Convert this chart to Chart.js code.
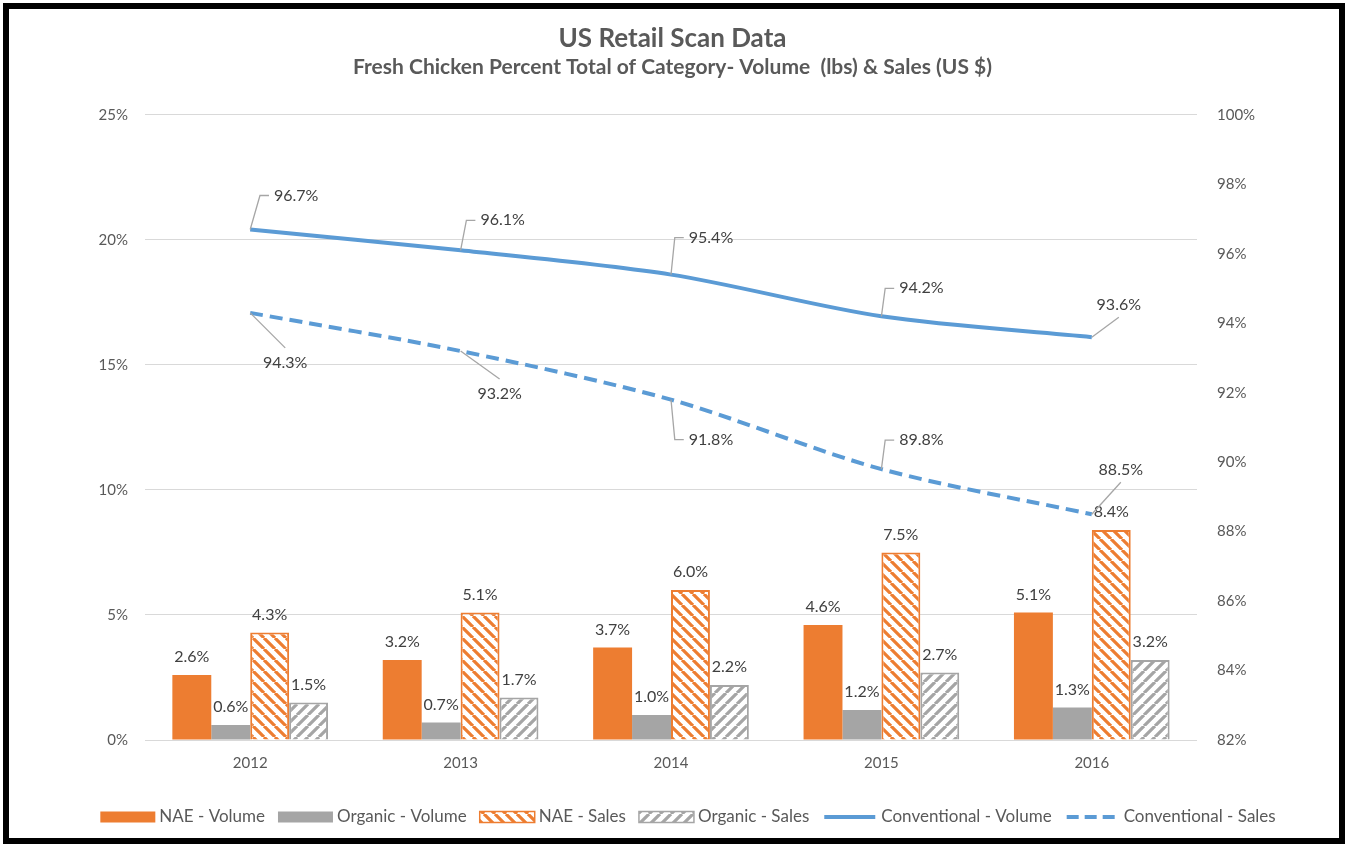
<!DOCTYPE html>
<html>
<head>
<meta charset="utf-8">
<script src="https://cdn.jsdelivr.net/npm/chart.js@4.4.1/dist/chart.umd.min.js"></script>
<style>
  html, body { margin: 0; padding: 0; background: #fff; }
  #wrap { width: 1345px; height: 844px; position: relative; }
</style>
</head>
<body>
<div id="wrap"><canvas id="myChart" width="1345" height="844"></canvas></div>
<script>
'use strict';
let years = ['2012', '2013', '2014', '2015', '2016'];
let naeVolume = [2.6, 3.2, 3.7, 4.6, 5.1];
let organicVolume = [0.6, 0.7, 1.0, 1.2, 1.3];
let naeSales = [4.3, 5.1, 6.0, 7.5, 8.4];
let organicSales = [1.5, 1.7, 2.2, 2.7, 3.2];
let convVolume = [96.7, 96.1, 95.4, 94.2, 93.6];
let convSales = [94.3, 93.2, 91.8, 89.8, 88.5];

let orange = '#ED7D31';
let gray = '#A5A5A5';
let blue = '#5B9BD5';
let textGray = '#595959';
let labelGray = '#404040';
let fontName = 'Lato, Carlito, Calibri, sans-serif';

// where each line label sits, relative to its point: dx, dy, leader type
let volLabelPos = [[46, -34, 'elbow'], [42, -30, 'elbow'], [40, -37, 'elbow'], [40, -28, 'elbow'], [27, -32, 'line']];
let salesLabelPos = [[35, 50, 'line'], [39, 43, 'line'], [40, 40, 'elbow'], [40, -29, 'elbow'], [29, -44, 'line']];

function makeHatch(color, back) {
    let s = 11;
    let c = document.createElement('canvas');
    c.width = s; c.height = s;
    let g = c.getContext('2d');
    g.fillStyle = '#fff';
    g.fillRect(0, 0, s, s);
    g.strokeStyle = color;
    g.lineWidth = 3.2;
    g.beginPath();
    for (let k = -1; k <= 1; k++) {
        if (back) {
            g.moveTo(k * s, 0); g.lineTo(k * s + s, s);
        } else {
            g.moveTo(k * s, s); g.lineTo(k * s + s, 0);
        }
    }
    g.stroke();
    return g.createPattern(c, 'repeat');
}

let orangeHatch = makeHatch(orange, true);
let grayHatch = makeHatch(gray, false);

let barLabels = {
    id: 'barLabels',
    afterDatasetsDraw(chart) {
        let ctx = chart.ctx;
        ctx.save();
        ctx.font = '16px ' + fontName;
        ctx.fillStyle = labelGray;
        ctx.textAlign = 'center';
        ctx.textBaseline = 'middle';
        chart.data.datasets.forEach(function (ds, i) {
            if (ds.type !== 'bar') return;
            chart.getDatasetMeta(i).data.forEach(function (el, j) {
                ctx.fillText(ds.data[j].toFixed(1) + '%', el.x, el.y - 18);
            });
        });

        // line labels with leader lines
        chart.data.datasets.forEach(function (ds, i) {
            if (ds.type !== 'line') return;
            let pos = ds.labelPos;
            chart.getDatasetMeta(i).data.forEach(function (el, j) {
                let txt = ds.data[j].toFixed(1) + '%';
                let w = ctx.measureText(txt).width;
                let cx = el.x + pos[j][0];
                let cy = el.y + pos[j][1];
                ctx.strokeStyle = '#A6A6A6';
                ctx.lineWidth = 1.3;
                ctx.beginPath();
                ctx.moveTo(el.x, el.y);
                if (pos[j][2] === 'elbow') {
                    let tl = cx - w / 2;
                    ctx.lineTo(tl - 14, cy);
                    ctx.lineTo(tl - 5, cy);
                } else {
                    ctx.lineTo(cx, pos[j][1] < 0 ? cy + 12 : cy - 15);
                }
                ctx.stroke();
                ctx.fillText(txt, cx, cy);
            });
        });
        ctx.restore();
    }
};

let customLegend = {
    id: 'customLegend',
    afterDraw(chart) {
        let ctx = chart.ctx;
        let items = [
            { text: 'NAE - Volume', kind: 'box', fill: orange },
            { text: 'Organic - Volume', kind: 'box', fill: gray },
            { text: 'NAE - Sales', kind: 'hatch', fill: orangeHatch, stroke: orange },
            { text: 'Organic - Sales', kind: 'hatch', fill: grayHatch, stroke: gray },
            { text: 'Conventional - Volume', kind: 'line', dash: [] },
            { text: 'Conventional - Sales', kind: 'line', dash: [12, 6] }
        ];
        ctx.save();
        ctx.font = '17px ' + fontName;
        let boxW = 55, boxH = 11, gapIn = 4, gapOut = 13;
        let total = 0;
        items.forEach(function (it) {
            it.w = ctx.measureText(it.text).width;
            total += boxW + gapIn + it.w + gapOut;
        });
        total -= gapOut;
        let x = 688 - total / 2;
        let y = 817;
        items.forEach(function (it) {
            if (it.kind === 'line') {
                ctx.strokeStyle = blue;
                ctx.lineWidth = 4;
                ctx.setLineDash(it.dash);
                ctx.beginPath();
                ctx.moveTo(x + 2, y);
                ctx.lineTo(x + boxW - 2, y);
                ctx.stroke();
                ctx.setLineDash([]);
            } else {
                ctx.fillStyle = it.fill;
                ctx.fillRect(x, y - boxH / 2, boxW, boxH);
                if (it.stroke) {
                    ctx.strokeStyle = it.stroke;
                    ctx.lineWidth = 1.5;
                    ctx.strokeRect(x, y - boxH / 2, boxW, boxH);
                }
            }
            ctx.fillStyle = textGray;
            ctx.textAlign = 'left';
            ctx.textBaseline = 'middle';
            ctx.fillText(it.text, x + boxW + gapIn, y);
            x += boxW + gapIn + it.w + gapOut;
        });
        // black frame round the picture
        ctx.strokeStyle = '#000';
        ctx.lineWidth = 6;
        ctx.strokeRect(6, 6, 1336, 835);
        ctx.restore();
    }
};

let ctx = document.getElementById('myChart').getContext('2d');
let myChart = new Chart(ctx, {
    data: {
        labels: years,
        datasets: [{
            type: 'line',
            label: 'Conventional - Volume',
            data: convVolume,
            yAxisID: 'y1',
            borderColor: blue,
            borderWidth: 4,
            pointRadius: 0,
            tension: 0.3,
            order: 0,
            labelPos: volLabelPos
        }, {
            type: 'line',
            label: 'Conventional - Sales',
            data: convSales,
            yAxisID: 'y1',
            borderColor: blue,
            borderWidth: 4,
            borderDash: [13, 7],
            pointRadius: 0,
            tension: 0.3,
            order: 0,
            labelPos: salesLabelPos
        }, {
            type: 'bar',
            label: 'NAE - Volume',
            data: naeVolume,
            backgroundColor: orange,
            order: 1
        }, {
            type: 'bar',
            label: 'Organic - Volume',
            data: organicVolume,
            backgroundColor: gray,
            order: 1
        }, {
            type: 'bar',
            label: 'NAE - Sales',
            data: naeSales,
            backgroundColor: orangeHatch,
            borderColor: orange,
            borderWidth: 2,
            order: 1
        }, {
            type: 'bar',
            label: 'Organic - Sales',
            data: organicSales,
            backgroundColor: grayHatch,
            borderColor: gray,
            borderWidth: 2,
            order: 1
        }]
    },
    options: {
        responsive: false,
        animation: false,
        datasets: {
            bar: { categoryPercentage: 0.74, barPercentage: 1.0 }
        },
        layout: { padding: { left: 0, right: 0, top: 0, bottom: 60 } },
        plugins: {
            legend: { display: false },
            tooltip: { enabled: false },
            title: {
                display: true,
                text: 'US Retail Scan Data',
                color: textGray,
                font: { family: fontName, size: 26, weight: 'bold' },
                padding: { top: 23, bottom: 0 }
            },
            subtitle: {
                display: true,
                text: 'Fresh Chicken Percent Total of Category- Volume  (lbs) & Sales (US $)',
                color: textGray,
                font: { family: fontName, size: 21, weight: 'bold' },
                padding: { top: 0, bottom: 35.5 }
            }
        },
        scales: {
            x: {
                grid: { display: false, drawTicks: false },
                border: { display: false },
                ticks: { color: textGray, font: { family: fontName, size: 15 }, padding: 14 },
                afterFit: function (s) { s.height = 44; }
            },
            y: {
                position: 'left',
                min: 0,
                max: 25,
                grid: { color: '#D9D9D9', lineWidth: 1, drawTicks: false },
                border: { display: false },
                ticks: {
                    stepSize: 5,
                    padding: 17,
                    color: textGray,
                    font: { family: fontName, size: 15 },
                    callback: function (v) { return v + '%'; }
                },
                afterFit: function (s) { s.width = 145; }
            },
            y1: {
                position: 'right',
                min: 82,
                max: 100,
                grid: { display: false, drawTicks: false },
                border: { display: false },
                ticks: {
                    stepSize: 2,
                    padding: 20,
                    color: textGray,
                    font: { family: fontName, size: 15 },
                    callback: function (v) { return v + '%'; }
                },
                afterFit: function (s) { s.width = 148; }
            }
        }
    },
    plugins: [barLabels, customLegend]
});
</script>
</body>
</html>
